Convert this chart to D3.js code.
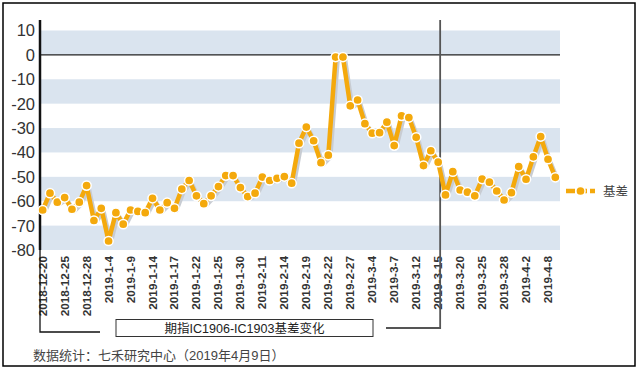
<!DOCTYPE html>
<html><head><meta charset="utf-8">
<script src="https://cdn.jsdelivr.net/npm/d3@7"></script>
<style>
html,body{margin:0;padding:0;background:#fff;}
svg{display:block;font-family:"Liberation Sans",Arial,"Noto Sans CJK SC",sans-serif;}
</style></head><body>
<svg id="c" width="638" height="369"></svg>
<script>
const dates = ["2018-12-20","2018-12-21","2018-12-24","2018-12-25","2018-12-26","2018-12-27","2018-12-28","2019-1-2","2019-1-3","2019-1-4","2019-1-7","2019-1-8","2019-1-9","2019-1-10","2019-1-11","2019-1-14","2019-1-15","2019-1-16","2019-1-17","2019-1-18","2019-1-21","2019-1-22","2019-1-23","2019-1-24","2019-1-25","2019-1-28","2019-1-29","2019-1-30","2019-1-31","2019-2-1","2019-2-11","2019-2-12","2019-2-13","2019-2-14","2019-2-15","2019-2-18","2019-2-19","2019-2-20","2019-2-21","2019-2-22","2019-2-25","2019-2-26","2019-2-27","2019-2-28","2019-3-1","2019-3-4","2019-3-5","2019-3-6","2019-3-7","2019-3-8","2019-3-11","2019-3-12","2019-3-13","2019-3-14","2019-3-15","2019-3-18","2019-3-19","2019-3-20","2019-3-21","2019-3-22","2019-3-25","2019-3-26","2019-3-27","2019-3-28","2019-3-29","2019-4-1","2019-4-2","2019-4-3","2019-4-4","2019-4-8","2019-4-9"];
const basis = [-63.6,-56.7,-60.4,-58.5,-63.3,-60.4,-53.6,-67.9,-62.9,-76.3,-64.7,-69.4,-63.6,-64.2,-64.7,-58.8,-63.6,-60.6,-62.9,-55.0,-51.5,-57.8,-61.0,-57.8,-54.0,-49.5,-49.5,-54.4,-58.1,-56.7,-50.1,-51.5,-50.6,-49.9,-52.6,-36.2,-29.6,-35.2,-44.2,-41.1,-0.9,-0.9,-20.9,-18.5,-28.2,-32.1,-31.9,-27.6,-37.2,-25.0,-25.7,-33.8,-45.4,-39.3,-44.0,-57.4,-47.9,-55.4,-56.3,-57.8,-50.9,-52.2,-55.8,-59.5,-56.5,-45.8,-51.0,-41.8,-33.5,-42.8,-50.2];
const tickLabels = ["2018-12-20","2018-12-25","2018-12-28","2019-1-4","2019-1-9","2019-1-14","2019-1-17","2019-1-22","2019-1-25","2019-1-30","2019-2-11","2019-2-14","2019-2-19","2019-2-22","2019-2-27","2019-3-4","2019-3-7","2019-3-12","2019-3-15","2019-3-20","2019-3-25","2019-3-28","2019-4-2","2019-4-8"];
const yTicks = [10,0,-10,-20,-30,-40,-50,-60,-70,-80];
const bands = [[10,0],[-10,-20],[-30,-40],[-50,-60],[-70,-80]];
const seriesName = "基差";
const title = "期指IC1906-IC1903基差变化";
const source = "数据统计：七禾研究中心（2019年4月9日）";

const svg = d3.select("#c");
const x = d3.scaleBand().domain(dates).range([39, 559]);
const y = d3.scaleLinear().domain([-80, 10]).range([250, 30.5]);
const cx = d => x(d) + x.bandwidth()/2;

// border
svg.append("rect").attr("x",3).attr("y",3).attr("width",632).attr("height",363)
  .attr("fill","#fff").attr("stroke","#000").attr("stroke-width",1.5);

// bands
svg.append("g").selectAll("rect").data(bands).join("rect")
  .attr("x",40).attr("width",520)
  .attr("y",d=>y(d[0])).attr("height",d=>y(d[1])-y(d[0]))
  .attr("fill","#dae4ef");

// zero line
svg.append("line").attr("x1",40).attr("x2",560).attr("y1",y(0)).attr("y2",y(0))
  .attr("stroke","#222").attr("stroke-width",1.2);

// y axis labels
svg.append("g").selectAll("text").data(yTicks).join("text")
  .attr("x",35).attr("y",d=>y(d)).attr("dy","0.36em")
  .attr("text-anchor","end").attr("font-size",16.5).attr("fill","#333")
  .text(d=>d);

// x labels
const tickSet = new Set(tickLabels);
svg.append("g").selectAll("text").data(dates.filter(d=>tickSet.has(d))).join("text")
  .attr("transform",d=>`translate(${cx(d)+4},256) rotate(-90)`)
  .attr("text-anchor","end").attr("font-size",11.8).attr("font-weight","bold").attr("fill","#333")
  .text(d=>d);

// bracket lines
svg.append("path").attr("d",`M40,20V332H100`).attr("fill","none").attr("stroke","#111").attr("stroke-width",1.3);
svg.append("line").attr("x1",40).attr("x2",40).attr("y1",20).attr("y2",250).attr("stroke","#111").attr("stroke-width",2.5);
svg.append("path").attr("d",`M386,328H${cx("2019-3-15")+2}V20`).attr("fill","none").attr("stroke","#555").attr("stroke-width",1.8);

// series
const line = d3.line().x((d,i)=>cx(dates[i])).y(d=>y(d));
svg.append("path").datum(basis).attr("d",line).attr("transform","translate(2,2)")
  .attr("fill","none").attr("stroke","#c8ccd2").attr("stroke-width",4.5).attr("stroke-linejoin","round");
svg.append("path").datum(basis).attr("d",line)
  .attr("fill","none").attr("stroke","#f4a90c").attr("stroke-width",4.5).attr("stroke-linejoin","round");
svg.append("g").selectAll("circle").data(basis).join("circle")
  .attr("cx",(d,i)=>cx(dates[i])).attr("cy",d=>y(d)).attr("r",4.6)
  .attr("fill","#f4a90c").attr("stroke","#fff").attr("stroke-width",1.5);

// title box
svg.append("rect").attr("x",116).attr("y",319.5).attr("width",257).attr("height",17)
  .attr("fill","#fff").attr("stroke","#333").attr("stroke-width",1);
svg.append("text").attr("x",244.5).attr("y",332.5).attr("text-anchor","middle")
  .attr("font-size",12.5).attr("fill","#222").text(title);

// legend
svg.append("line").attr("x1",566).attr("x2",595).attr("y1",191).attr("y2",191)
  .attr("stroke","#f4a90c").attr("stroke-width",4.5).attr("stroke-dasharray","9,3");
svg.append("circle").attr("cx",580.5).attr("cy",191).attr("r",4.6).attr("fill","#f4a90c").attr("stroke","#fff").attr("stroke-width",1.5);
svg.append("text").attr("x",603).attr("y",195.5).attr("font-size",12.5).attr("fill","#444").text(seriesName);

// source
svg.append("text").attr("x",33).attr("y",360).attr("font-size",13).attr("fill","#444").text(source);
</script>
</body></html>
